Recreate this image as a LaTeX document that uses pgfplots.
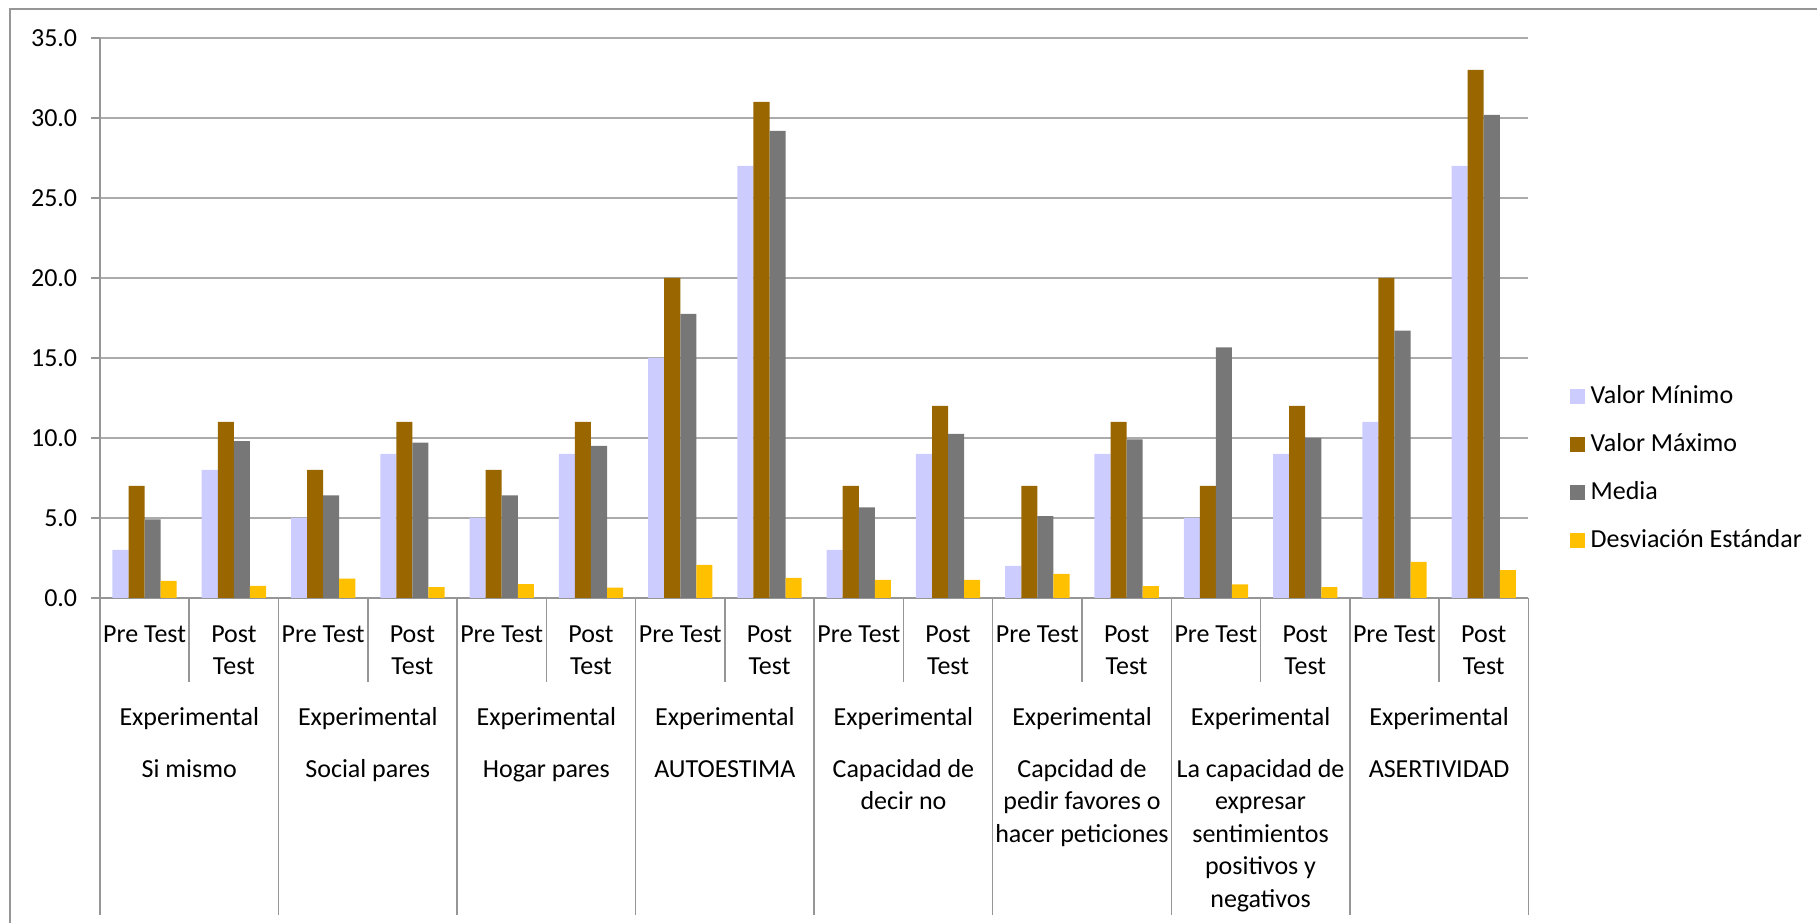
\documentclass[border=0pt]{standalone}
\usepackage{fontspec}
\setmainfont{Carlito}
\usepackage{pgfplots}
\usepackage{pgfplotstable}
\pgfplotsset{compat=1.18}

\definecolor{cmin}{HTML}{CCCCFF}
\definecolor{cmax}{HTML}{996600}
\definecolor{cmed}{HTML}{777777}
\definecolor{cstd}{HTML}{FFC000}
\definecolor{gridgray}{HTML}{ABABAB}
\definecolor{sepgray}{HTML}{969696}

% x: 0..15 = (Pre Test, Post Test) for each of the 8 dimensions
\pgfplotstableread{
x  vmin vmax media std
0  3    7    4.9   1.05
1  8    11   9.8   0.75
2  5    8    6.4   1.19
3  9    11   9.7   0.67
4  5    8    6.4   0.86
5  9    11   9.5   0.63
6  15   20   17.75 2.05
7  27   31   29.2  1.24
8  3    7    5.65  1.12
9  9    12   10.25 1.12
10 2    7    5.1   1.49
11 9    11   9.9   0.72
12 5    7    15.65 0.84
13 9    12   10.0  0.67
14 11   20   16.7  2.25
15 27   33   30.2  1.73
}\datos

\begin{document}
\fontsize{13}{16.25}\selectfont
\begin{tikzpicture}[
  every node/.append style={font=\fontsize{13}{16.25}\selectfont},
  catlabel/.style={anchor=north, align=center, inner sep=0pt},
]
\begin{axis}[
  scale only axis,
  width=714.5pt, height=280pt,
  clip=false,
  xmin=-0.5, xmax=15.5,
  ymin=0, ymax=35,
  ytick distance=5,
  xtick=\empty,
  axis x line*=bottom,
  axis y line*=left,
  axis line style={draw=sepgray, line width=0.75pt},
  ymajorgrids,
  grid style={draw=gridgray, line width=1pt},
  tick align=outside,
  major tick length=4.5pt,
  ytick style={draw=sepgray, line width=0.75pt},
  yticklabel style={
    /pgf/number format/fixed,
    /pgf/number format/fixed zerofill,
    /pgf/number format/precision=1,
    /pgf/number format/assume math mode=true,
    anchor=east, inner sep=0pt, xshift=-6.7pt},
  ybar=0pt,
  bar width=0.18,
  legend cell align=left,
  legend style={draw=none, fill=none, anchor=west,
    at={(rel axis cs:1.0287,0.2313)},
    row sep=13pt, inner sep=0pt,
    nodes={inner sep=0pt, font=\fontsize{13}{16.25}\selectfont}},
  legend image code/.code={\fill[#1,draw=none] (0pt,-3.75pt) rectangle (7.5pt,3.75pt);},
]
\addplot[fill=cmin, draw=none, bar shift=-0.27] table[x=x, y=vmin] {\datos};
\addplot[fill=cmax, draw=none, bar shift=-0.09] table[x=x, y=vmax] {\datos};
\addplot[fill=cmed, draw=none, bar shift=0.09] table[x=x, y=media] {\datos};
\addplot[fill=cstd, draw=none, bar shift=0.27] table[x=x, y=std] {\datos};
\legend{\ Valor Mínimo, \ Valor Máximo, \ Media, \ Desviación Estándar}

% category axis: separators and first two label levels
\pgfplotsinvokeforeach{0,...,7}{
  \draw[sepgray, line width=0.75pt] (axis cs:{2*#1+0.5},0) -- ++(0pt,-42pt);
  \node[catlabel] at (axis cs:{2*#1},0) [yshift=-10.625pt] {\strut Pre Test};
  \node[catlabel] at (axis cs:{2*#1+1},0) [yshift=-10.625pt] {\strut Post\\Test};
  \node[catlabel] at (axis cs:{2*#1+0.5},0) [yshift=-52.125pt] {\strut Experimental};
}
\pgfplotsinvokeforeach{0,...,8}{
  \draw[sepgray, line width=0.75pt] (axis cs:{2*#1-0.5},0) -- ++(0pt,-158.5pt);
}
% level 3: dimensions
\node[catlabel] at (axis cs:0.5,0) [yshift=-78.125pt] {\strut Si mismo};
\node[catlabel] at (axis cs:2.5,0) [yshift=-78.125pt] {\strut Social pares};
\node[catlabel] at (axis cs:4.5,0) [yshift=-78.125pt] {\strut Hogar pares};
\node[catlabel] at (axis cs:6.5,0) [yshift=-78.125pt] {\strut AUTOESTIMA};
\node[catlabel] at (axis cs:8.5,0) [yshift=-78.125pt] {\strut Capacidad de\\decir no};
\node[catlabel] at (axis cs:10.5,0) [yshift=-78.125pt] {\strut Capcidad de\\pedir favores o\\hacer peticiones};
\node[catlabel] at (axis cs:12.5,0) [yshift=-78.125pt] {\strut La capacidad de\\expresar\\sentimientos\\positivos y\\negativos};
\node[catlabel] at (axis cs:14.5,0) [yshift=-78.125pt] {\strut ASERTIVIDAD};
\end{axis}
% outer chart frame (top and left edges visible)
\draw[sepgray, line width=0.75pt] (859pt,294.5pt) -- (-45pt,294.5pt) -- (-45pt,-162.5pt);
\path (-50pt,-162.5pt) rectangle (859pt,299pt);
\end{tikzpicture}
\end{document}
